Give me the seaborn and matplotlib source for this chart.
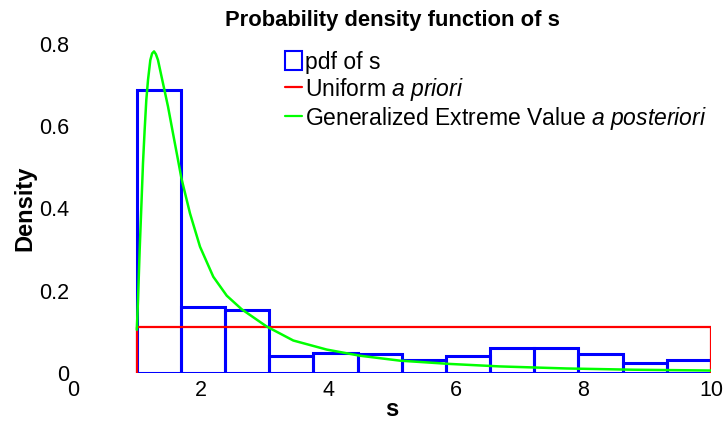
import numpy as np
import pandas as pd
import matplotlib
matplotlib.use("Agg")
import matplotlib.pyplot as plt
import seaborn as sns
from matplotlib.patches import Rectangle
from matplotlib.lines import Line2D

# ---- data ----
bin_lo, bin_hi, n_bins = 1.0, 10.0, 13
bin_heights = [0.688, 0.160, 0.153, 0.041, 0.049, 0.046, 0.031,
               0.042, 0.060, 0.062, 0.047, 0.024, 0.031]

uniform_lo, uniform_hi = 1.0, 10.0
uniform_density = 1.0 / 9.0

gev_x = [1.000, 1.019, 1.045, 1.071, 1.097, 1.123, 1.149, 1.176, 1.212, 1.240,
         1.270, 1.300, 1.332, 1.411, 1.489, 1.567, 1.646, 1.700, 1.834, 1.991,
         2.199, 2.410, 2.644, 3.036, 3.245, 3.453, 3.976, 4.498, 5.125, 5.910,
         6.690, 7.740, 8.780, 10.000]
gev_y = [0.105, 0.178, 0.299, 0.404, 0.510, 0.591, 0.664, 0.713, 0.761, 0.777,
         0.782, 0.775, 0.761, 0.704, 0.648, 0.583, 0.518, 0.473, 0.388, 0.307,
         0.234, 0.188, 0.155, 0.113, 0.096, 0.079, 0.057, 0.042, 0.030, 0.022,
         0.016, 0.011, 0.008, 0.006]

title = "Probability density function of s"
xlabel = "s"
ylabel = "Density"
xticks = [0, 2, 4, 6, 8, 10]
yticks = [0, 0.2, 0.4, 0.6, 0.8]
ytick_labels = ["0", "0.2", "0.4", "0.6", "0.8"]

# ---- styling ----
sns.set_style("white")
plt.rcParams["font.family"] = ["Liberation Sans", "DejaVu Sans"]
plt.rcParams["mathtext.fontset"] = "custom"
plt.rcParams["mathtext.rm"] = "Liberation Sans"
plt.rcParams["mathtext.it"] = "Liberation Sans:italic"
for key in ["text.color", "axes.labelcolor", "xtick.color", "ytick.color"]:
    plt.rcParams[key] = "black"

fig = plt.figure(figsize=(7.27, 4.22), dpi=100)
ax = fig.add_axes([73 / 727, 1 - 373 / 422, (711 - 73) / 727, (373 - 44) / 422])

width = (bin_hi - bin_lo) / n_bins
centers = [bin_lo + width * (i + 0.5) for i in range(n_bins)]
hist_df = pd.DataFrame({"s": centers, "w": bin_heights})
sns.histplot(data=hist_df, x="s", weights="w", bins=n_bins,
             binrange=(bin_lo, bin_hi), stat="count",
             fill=False, element="bars", color=(0, 0, 1), linewidth=2.2,
             ax=ax)

uni_df = pd.DataFrame({"s": [uniform_lo, uniform_lo, uniform_hi, uniform_hi],
                       "d": [0, uniform_density, uniform_density, 0]})
sns.lineplot(data=uni_df, x="s", y="d", sort=False, estimator=None,
             errorbar=None, color=(1, 0, 0), linewidth=1.6, ax=ax)

gev_df = pd.DataFrame({"s": gev_x, "d": gev_y})
sns.lineplot(data=gev_df, x="s", y="d", sort=False, estimator=None,
             errorbar=None, color=(0, 1, 0), linewidth=1.8, ax=ax)

ax.set_xlim(0, 10)
ax.set_ylim(0, 0.8)
ax.set_xticks(xticks)
ax.set_xticklabels([str(t) for t in xticks])
ax.set_yticks(yticks)
ax.set_yticklabels(ytick_labels)
ax.tick_params(axis="both", labelsize=15.5, length=0, pad=3)
ax.tick_params(axis="x", pad=5)
for sp in ax.spines.values():
    sp.set_visible(False)

ax.set_title(title, fontsize=15.8, fontweight="bold", pad=13)
ax.set_xlabel(xlabel, fontsize=17, fontweight="bold", labelpad=-2)
ax.set_ylabel(ylabel, fontsize=17, fontweight="bold", labelpad=2)

handles = [Rectangle((0, 0), 1, 1, facecolor="white", edgecolor=(0, 0, 1), linewidth=1.5),
           Line2D([], [], color=(1, 0, 0), linewidth=1.6),
           Line2D([], [], color=(0, 1, 0), linewidth=1.6)]
labels = ["pdf of s", r"Uniform $\it{a\ priori}$",
          r"Generalized Extreme Value $\it{a\ posteriori}$"]
ax.legend(handles, labels, loc="upper left", bbox_to_anchor=(0.332, 0.98),
          frameon=False, fontsize=16.5, handlelength=0.75, handleheight=0.9,
          handletextpad=0.12, labelspacing=0.1, borderpad=0, borderaxespad=0)

fig.savefig("out.png", dpi=100)
